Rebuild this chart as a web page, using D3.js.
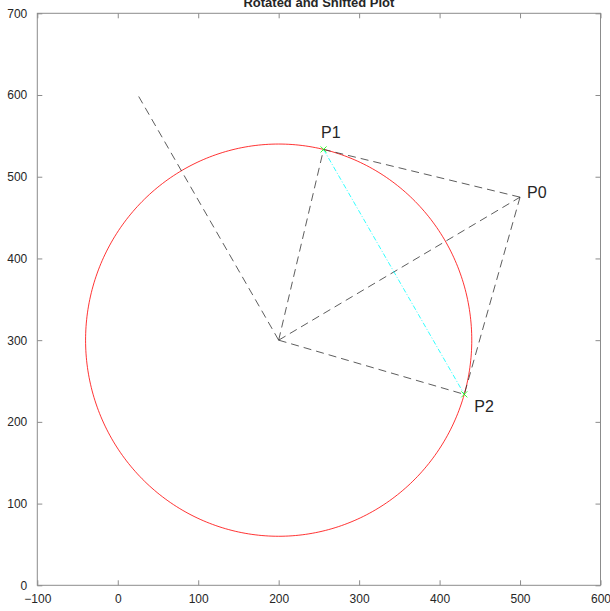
<!DOCTYPE html>
<html>
<head>
<meta charset="utf-8">
<script src="https://cdn.jsdelivr.net/npm/d3@7"></script>
<style>
  html, body { margin: 0; padding: 0; background: #fff; }
  svg { display: block; font-family: "Liberation Sans", Arial, sans-serif; }
</style>
</head>
<body>
<svg id="chart" width="610" height="611"></svg>
<script>
// Geometry: a circle, an outside point P0 and its two tangent points P1, P2
const center = { x: 200, y: 300 };
const radius = 240;
const P0 = { x: 500, y: 475 };
const P1 = { x: 255.8, y: 533.4 };
const P2 = { x: 430.7, y: 233.7 };
// P0 turned 90 degrees about the centre
const P0rot = { x: 25, y: 600 };

const xTicks = [-100, 0, 100, 200, 300, 400, 500, 600];
const yTicks = [0, 100, 200, 300, 400, 500, 600, 700];
const titleText = "Rotated and Shifted Plot";

// dashed construction segments
const dashedSegments = [
  [center, P0], [center, P1], [center, P2],
  [P0, P1], [P0, P2], [center, P0rot]
];

const labels = [
  { name: "P0", p: P0, dx: 7, dy: -5 },
  { name: "P1", p: P1, dx: -2.5, dy: -17 },
  { name: "P2", p: P2, dx: 10, dy: 12 }
];

const svg = d3.select("#chart");
const plotLeft = 37.3, plotRight = 600.5, plotTop = 13.3, plotBottom = 585.3;

const x = d3.scaleLinear().domain([-100, 600]).range([plotLeft, plotRight]);
const y = d3.scaleLinear().domain([0, 700]).range([plotBottom, plotTop]);

const axisColor = "#8c8c8c";
const textColor = "#262626";

// circle drawn as a path through scales
const angles = d3.range(0, 361, 1).map(a => a * Math.PI / 180);
const circlePts = angles.map(t => [center.x + radius * Math.cos(t), center.y + radius * Math.sin(t)]);
const line = d3.line().x(d => x(d[0])).y(d => y(d[1]));

const plot = svg.append("g");

plot.append("path")
  .attr("d", line(circlePts))
  .attr("fill", "none")
  .attr("stroke", "#ff0000")
  .attr("stroke-width", 0.8);

plot.selectAll("line.dash")
  .data(dashedSegments)
  .join("line")
  .attr("class", "dash")
  .attr("x1", d => x(d[0].x)).attr("y1", d => y(d[0].y))
  .attr("x2", d => x(d[1].x)).attr("y2", d => y(d[1].y))
  .attr("stroke", "#333")
  .attr("stroke-width", 0.8)
  .attr("stroke-dasharray", "8,5");

plot.append("line")
  .attr("x1", x(P1.x)).attr("y1", y(P1.y))
  .attr("x2", x(P2.x)).attr("y2", y(P2.y))
  .attr("stroke", "#00ffff")
  .attr("stroke-width", 0.8)
  .attr("stroke-dasharray", "5,2,1,2");

// tangent point markers
const m = 3;
[P1, P2].forEach(p => {
  const cx = x(p.x), cy = y(p.y);
  plot.append("path")
    .attr("d", `M${cx - m},${cy - m}L${cx + m},${cy + m}M${cx - m},${cy + m}L${cx + m},${cy - m}`)
    .attr("stroke", "#00ff00")
    .attr("stroke-width", 0.8)
    .attr("fill", "none");
});

plot.selectAll("text.pt")
  .data(labels)
  .join("text")
  .attr("class", "pt")
  .attr("x", d => x(d.p.x) + d.dx)
  .attr("y", d => y(d.p.y) + d.dy)
  .attr("font-size", 16)
  .attr("fill", textColor)
  .attr("dy", "0.35em")
  .text(d => d.name);

// axes with inward ticks, mirrored on top and right
const tickLen = 5;
const axG = svg.append("g");
axG.append("rect")
  .attr("x", plotLeft).attr("y", plotTop)
  .attr("width", plotRight - plotLeft).attr("height", plotBottom - plotTop)
  .attr("fill", "none").attr("stroke", axisColor).attr("stroke-width", 1);

const xAxisB = d3.axisBottom(x).tickValues(xTicks).tickSizeInner(-tickLen).tickSizeOuter(0).tickPadding(9);
const xAxisT = d3.axisTop(x).tickValues(xTicks).tickSizeInner(-tickLen).tickSizeOuter(0).tickFormat("");
const yAxisL = d3.axisLeft(y).tickValues(yTicks).tickSizeInner(-tickLen).tickSizeOuter(0).tickPadding(10);
const yAxisR = d3.axisRight(y).tickValues(yTicks).tickSizeInner(-tickLen).tickSizeOuter(0).tickFormat("");

function styleAxis(g) {
  g.select(".domain").remove();
  g.selectAll(".tick line").attr("stroke", axisColor);
  g.selectAll(".tick text").attr("fill", textColor).attr("font-size", 12)
    .attr("font-family", "Liberation Sans, Arial, sans-serif");
}

axG.append("g").attr("transform", `translate(0,${plotBottom})`).call(xAxisB).call(styleAxis);
axG.append("g").attr("transform", `translate(0,${plotTop})`).call(xAxisT).call(styleAxis);
axG.append("g").attr("transform", `translate(${plotLeft},0)`).call(yAxisL).call(styleAxis);
axG.append("g").attr("transform", `translate(${plotRight},0)`).call(yAxisR).call(styleAxis);

// title sits partly above the top edge of the page
svg.append("text")
  .attr("x", (plotLeft + plotRight) / 2)
  .attr("y", 7)
  .attr("text-anchor", "middle")
  .attr("font-size", 13)
  .attr("font-weight", "bold")
  .attr("fill", textColor)
  .text(titleText);
</script>
</body>
</html>
